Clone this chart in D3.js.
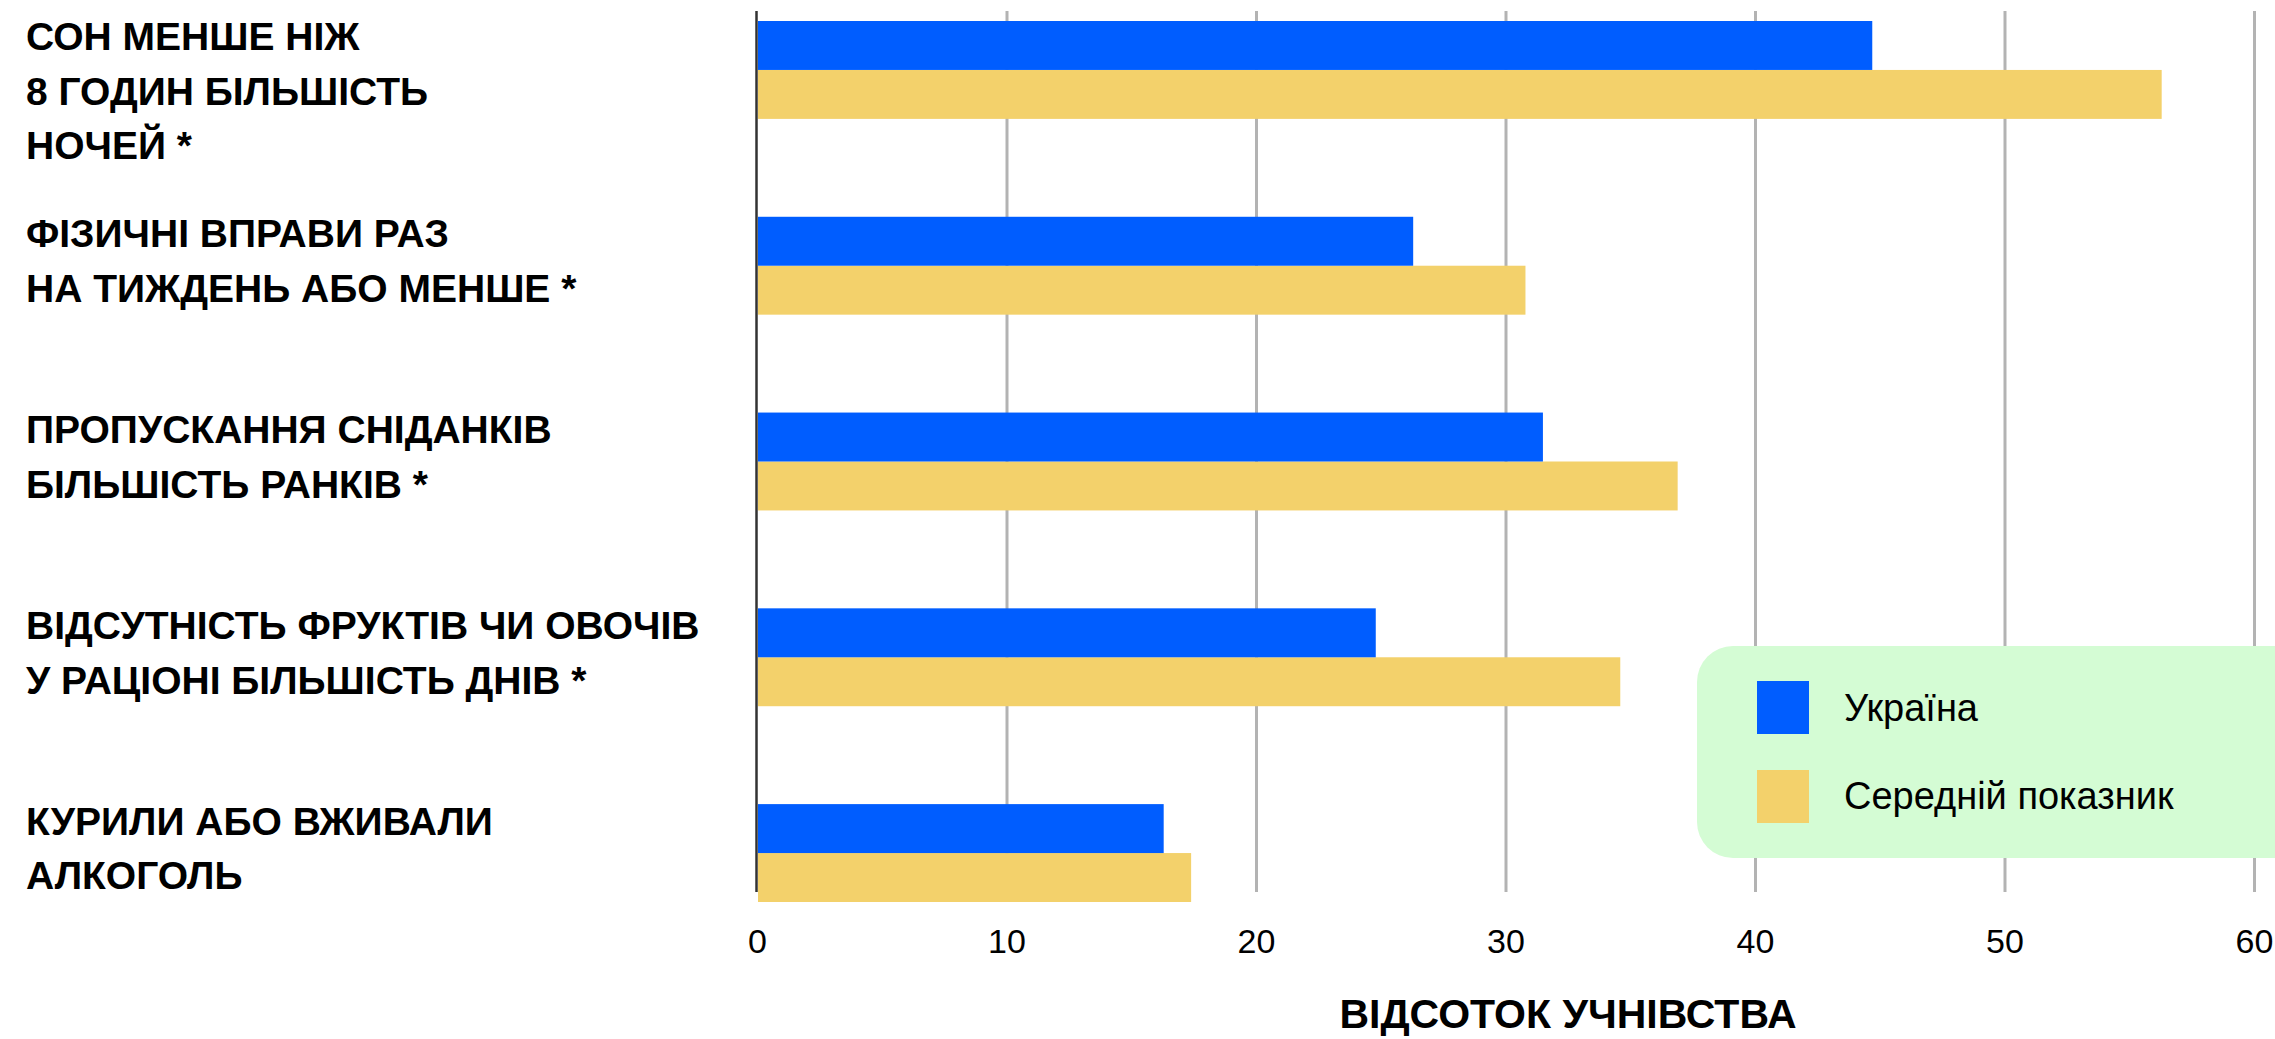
<!DOCTYPE html>
<html>
<head>
<meta charset="utf-8">
<script src="https://cdn.jsdelivr.net/npm/d3@7"></script>
<style>
  html, body { margin: 0; padding: 0; background: #ffffff; }
  svg { display: block; }
  text { font-family: "Liberation Sans", Arial, sans-serif; }
</style>
</head>
<body>
<div id="chart"></div>
<script>
// ---- data ----
const categories = [
  ["СОН МЕНШЕ НІЖ", "8 ГОДИН БІЛЬШІСТЬ", "НОЧЕЙ *"],
  ["ФІЗИЧНІ ВПРАВИ РАЗ", "НА ТИЖДЕНЬ АБО МЕНШЕ *"],
  ["ПРОПУСКАННЯ СНІДАНКІВ", "БІЛЬШІСТЬ РАНКІВ *"],
  ["ВІДСУТНІСТЬ ФРУКТІВ ЧИ ОВОЧІВ", "У РАЦІОНІ БІЛЬШІСТЬ ДНІВ *"],
  ["КУРИЛИ АБО ВЖИВАЛИ", "АЛКОГОЛЬ"]
];
const ukraine = [44.7, 26.3, 31.5, 24.8, 16.3];
const average = [56.3, 30.8, 36.9, 34.6, 17.4];
const seriesNames = ["Україна", "Середній показник"];
const seriesColors = ["#005dff", "#f3d16b"];
const xTicks = [0, 10, 20, 30, 40, 50, 60];
const xTitle = "ВІДСОТОК УЧНІВСТВА";

// ---- layout ----
const W = 2275, H = 1039;
const plotLeft = 757, plotRight = 2254;
const gridTop = 11, gridBottom = 892;
const barTop = 21, barBottom = 902;

const svg = d3.select("#chart").append("svg")
  .attr("width", W).attr("height", H);

const x = d3.scaleLinear().domain([0, 60]).range([plotLeft, plotRight]);
const y = d3.scaleBand().domain(d3.range(categories.length))
  .range([barTop, barBottom]).paddingInner(0.5).paddingOuter(0);
const sub = d3.scaleBand().domain([0, 1]).range([0, y.bandwidth()]);

// gridlines + tick labels via axis
const axisG = svg.append("g")
  .attr("transform", `translate(0,${gridBottom})`)
  .call(d3.axisBottom(x).tickValues(xTicks).tickSize(-(gridBottom - gridTop)).tickFormat(d3.format("d")));
axisG.select(".domain").remove();
axisG.selectAll(".tick line")
  .attr("stroke", "#b3b3b3").attr("stroke-width", 3);
axisG.selectAll(".tick").filter(d => d === 0).select("line").remove();
axisG.selectAll(".tick text")
  .attr("y", 61).attr("dy", 0)
  .attr("fill", "#000")
  .style("font-size", "34px")
  .style("font-family", "'Liberation Sans', Arial, sans-serif");

// bars
const rows = categories.map((c, i) => ({ i, vals: [ukraine[i], average[i]] }));
const gRows = svg.append("g").selectAll("g").data(rows).join("g")
  .attr("transform", d => `translate(0,${y(d.i)})`);
// draw average first, Ukraine on top
gRows.selectAll("rect").data(d => [1, 0].map(k => ({ k, v: d.vals[k] }))).join("rect")
  .attr("x", x(0) + 1)
  .attr("y", d => sub(d.k))
  .attr("width", d => x(d.v) - x(0) - 1)
  .attr("height", sub.bandwidth())
  .attr("fill", d => seriesColors[d.k]);

// zero axis line
svg.append("line")
  .attr("x1", x(0) - 0.5).attr("x2", x(0) - 0.5)
  .attr("y1", gridTop).attr("y2", gridBottom)
  .attr("stroke", "#333").attr("stroke-width", 2.5);

// category labels
const lh = 54.5, labFs = 39;
categories.forEach((lines, i) => {
  const c = y(i) + y.bandwidth() / 2 - 5;
  let first = c - (lines.length - 1) / 2 * lh;
  first = Math.max(first, 36);
  const t = svg.append("text")
    .attr("x", 26)
    .style("font-size", labFs + "px")
    .style("font-weight", "bold")
    .attr("fill", "#000");
  lines.forEach((ln, j) => {
    t.append("tspan").attr("x", 26).attr("y", first + j * lh + 14).text(ln);
  });
});

// axis title
svg.append("text")
  .attr("x", 1568).attr("y", 1028)
  .attr("text-anchor", "middle")
  .style("font-size", "41px").style("font-weight", "bold")
  .attr("fill", "#000")
  .text(xTitle);

// legend
const lg = svg.append("g");
lg.append("rect")
  .attr("x", 1697).attr("y", 646)
  .attr("width", 700).attr("height", 212)
  .attr("rx", 36).attr("ry", 36)
  .attr("fill", "#d4fcd4");
const legendRows = seriesNames.map((n, k) => ({ n, k }));
lg.selectAll("rect.sw").data(legendRows).join("rect")
  .attr("class", "sw")
  .attr("x", 1757).attr("y", d => 681 + d.k * 89)
  .attr("width", 52).attr("height", 53)
  .attr("fill", d => seriesColors[d.k]);
lg.selectAll("text.lt").data(legendRows).join("text")
  .attr("class", "lt")
  .attr("x", 1844).attr("y", d => 721 + d.k * 88)
  .style("font-size", "38px")
  .attr("fill", "#000")
  .text(d => d.n);
</script>
</body>
</html>
